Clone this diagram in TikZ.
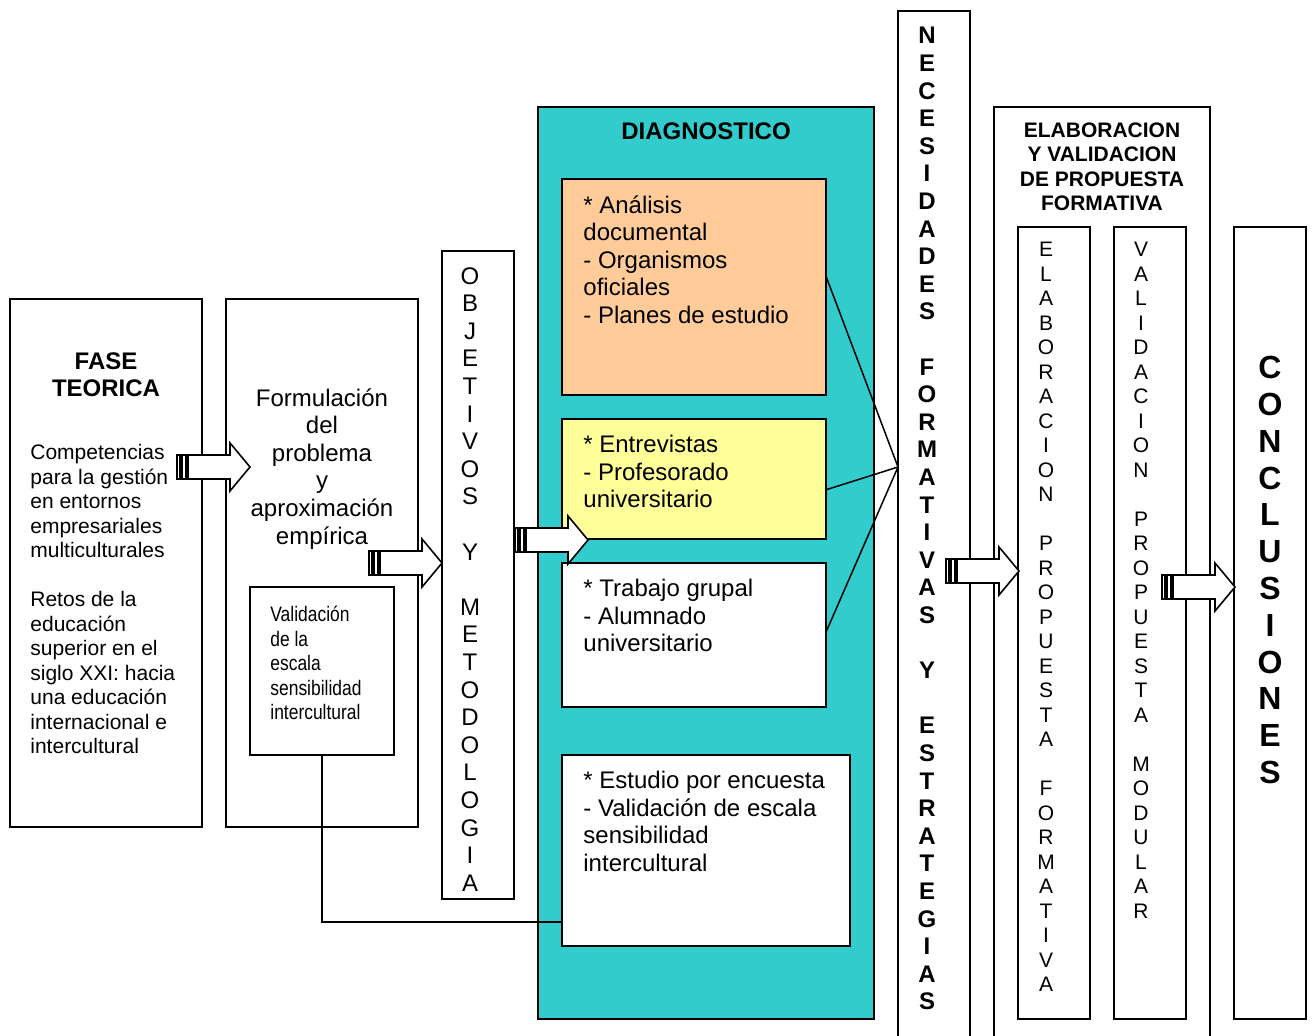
\documentclass[tikz,border=0pt]{standalone}
\usepackage{fontspec}
\setmainfont{Liberation Sans}
\newfontfamily\narrowfont[FakeStretch=0.83]{Liberation Sans}
\usetikzlibrary{calc}

\definecolor{diagcyan}{RGB}{51,204,204}
\definecolor{docorange}{RGB}{255,204,153}
\definecolor{intyellow}{RGB}{255,255,153}

\tikzset{
  box/.style={draw, line width=1pt, fill=white, anchor=north west, inner sep=0pt, outer sep=0pt},
  bigtxt/.style={font=\fontsize{12}{13.8}\selectfont, inner sep=0pt},
  bigbold/.style={font=\fontsize{12}{13.8}\selectfont\bfseries, inner sep=0pt},
  smalltxt/.style={font=\fontsize{10.5}{12.25}\selectfont, inner sep=0pt},
  smallbold/.style={font=\fontsize{10.5}{12.25}\selectfont\bfseries, inner sep=0pt},
  narrowtxt/.style={font=\fontsize{10.5}{12.25}\narrowfont, inner sep=0pt},
  hugebold/.style={font=\fontsize{16}{18.4}\selectfont\bfseries, inner sep=0pt},
  joinline/.style={line width=0.75pt},
  arrowline/.style={draw, fill=white, line width=0.8pt, line join=miter}
}

% striped block arrow, tail at #1
\newcommand\stripedarrow[1]{%
  \begin{scope}[shift={(#1)}]
    \filldraw[arrowline] (0,-12) rectangle (3,12);
    \filldraw[arrowline] (5,-12) rectangle (9,12);
    \filldraw[arrowline] (11,-12) -- (53,-12) -- (53,-24) -- (73,0) -- (53,24) -- (53,12) -- (11,12) -- cycle;
  \end{scope}}

\begin{document}
\begin{tikzpicture}[x=0.5pt,y=-0.5pt]
  \useasboundingbox (0,0) rectangle (1312,1036);

  \node[box, minimum width=96pt, minimum height=264pt] (fase) at (10,299) {};
  \node[box, minimum width=96pt, minimum height=264pt] (formulacion) at (226,299) {};
  \node[box, minimum width=72pt, minimum height=84pt] (validacion) at (250,587) {};
  \node[box, minimum width=36pt, minimum height=324pt] (objetivos) at (442,251) {};
  \node[box, fill=diagcyan, minimum width=168pt, minimum height=456pt] (diagnostico) at (538,107) {};
  \node[box, fill=docorange, minimum width=132pt, minimum height=108pt] (analisis) at (562,179) {};
  \node[box, fill=intyellow, minimum width=132pt, minimum height=60pt] (entrevistas) at (562,419) {};
  \node[box, minimum width=132pt, minimum height=72pt] (trabajo) at (562,563) {};
  \node[box, minimum width=144pt, minimum height=95.5pt] (encuesta) at (562,755) {};
  \node[box, minimum width=36pt, minimum height=520pt] (necesidades) at (898,11) {};
  \node[box, minimum width=108pt, minimum height=475pt] (elaboracion) at (994,107) {};
  \node[box, minimum width=36pt, minimum height=396pt] (elabprop) at (1018,227) {};
  \node[box, minimum width=36pt, minimum height=396pt] (valprop) at (1114,227) {};
  \node[box, minimum width=36pt, minimum height=396pt] (conclusiones) at (1234,227) {};

  \node[bigbold, align=center, anchor=north] (fasetitle) at (106,352) {FASE\\TEORICA};
  \node[smalltxt, align=left, anchor=north west] (fasetext) at (30,444)
    {Competencias\\para la gestión\\en entornos\\empresariales\\multiculturales\\[12.25pt]Retos de la\\educación\\superior en el\\siglo XXI: hacia\\una educación\\internacional e\\intercultural};
  \node[bigtxt, align=center, anchor=north] (formtext) at (322,388)
    {Formulación\\del\\problema\\y\\aproximación\\empírica};
  \node[narrowtxt, align=left, anchor=north west] (valtext) at (270,606)
    {Validación\\de la\\escala\\sensibilidad\\intercultural};
  \node[bigtxt, align=center, anchor=north] (objtext) at (470,267)
    {O\\B\\J\\E\\T\\I\\V\\O\\S\\[13.8pt]Y\\[13.8pt]M\\E\\T\\O\\D\\O\\L\\O\\G\\I\\A};
  \node[bigbold] (diagtitle) at (706,131) {DIAGNOSTICO};
  \node[bigtxt, align=left, anchor=north west] (anatext) at (583,195)
    {* Análisis\\documental\\- Organismos\\oficiales\\- Planes de estudio};
  \node[bigtxt, align=left, anchor=north west] (enttext) at (583,435)
    {* Entrevistas\\- Profesorado\\universitario};
  \node[bigtxt, align=left, anchor=north west] (trabtext) at (583,579)
    {* Trabajo grupal\\- Alumnado\\universitario};
  \node[bigtxt, align=left, anchor=north west] (enctext) at (583,771)
    {* Estudio por encuesta\\- Validación de escala\\sensibilidad\\intercultural};
  \node[bigbold, align=center, anchor=north] (nectext) at (927,27)
    {N\\E\\C\\E\\S\\I\\D\\A\\D\\E\\S\\[13.8pt]F\\O\\R\\M\\A\\T\\I\\V\\A\\S\\[13.8pt]Y\\[13.8pt]E\\S\\T\\R\\A\\T\\E\\G\\I\\A\\S};
  \node[smallbold, align=center, anchor=north] (elabtitle) at (1102,122)
    {ELABORACION\\Y VALIDACION\\DE PROPUESTA\\FORMATIVA};
  \node[smalltxt, align=center, anchor=north] (elabptext) at (1046,242)
    {E\\L\\A\\B\\O\\R\\A\\C\\I\\O\\N\\[12.25pt]P\\R\\O\\P\\U\\E\\S\\T\\A\\[12.25pt]F\\O\\R\\M\\A\\T\\I\\V\\A};
  \node[smalltxt, align=center, anchor=north] (valptext) at (1141,242)
    {V\\A\\L\\I\\D\\A\\C\\I\\O\\N\\[12.25pt]P\\R\\O\\P\\U\\E\\S\\T\\A\\[12.25pt]M\\O\\D\\U\\L\\A\\R};
  \node[hugebold, align=center, anchor=north] (conctext) at (1270,356)
    {C\\O\\N\\C\\L\\U\\S\\I\\O\\N\\E\\S};

  \coordinate (meet) at (898,467);
  \draw[joinline] ($(analisis.north east)!0.45!(analisis.south east)$) -- (meet);
  \draw[joinline] ($(entrevistas.north east)!0.59!(entrevistas.south east)$) -- (meet);
  \draw[joinline] ($(trabajo.north east)!0.48!(trabajo.south east)$) -- (meet);
  \coordinate (encin) at ($(encuesta.north west)!0.874!(encuesta.south west)$);
  \draw[joinline] (validacion.south) |- (encin);

  \coordinate (faseout) at (177,467);
  \coordinate (formout) at (369,563);
  \coordinate (objout) at (515,540);
  \coordinate (necout) at (946,571);
  \coordinate (valout) at (1162,587);
  \stripedarrow{faseout}
  \stripedarrow{formout}
  \stripedarrow{objout}
  \stripedarrow{necout}
  \stripedarrow{valout}
\end{tikzpicture}
\end{document}
